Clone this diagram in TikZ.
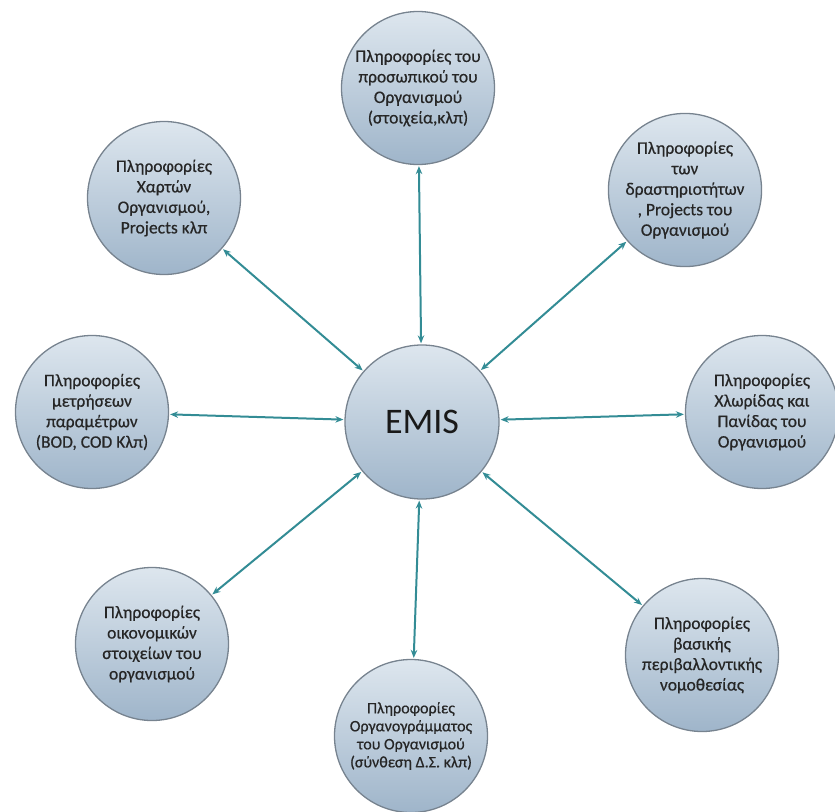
\documentclass[tikz,border=0pt]{standalone}
\usepackage{fontspec}
\setmainfont{Carlito}
\newfontfamily\bubfont[FakeBold=0.5]{Carlito}
\usetikzlibrary{arrows.meta}
\definecolor{arr}{HTML}{338C95}
\definecolor{ctop}{HTML}{DDE6EE}
\definecolor{cbot}{HTML}{9FB5CA}
\definecolor{cbord}{HTML}{77838F}
\begin{document}
\begin{tikzpicture}[x=1pt,y=-1pt,
  bub/.style={circle, draw=cbord, line width=1.3pt, top color=ctop, bottom color=cbot,
    minimum size=153pt, inner sep=0pt, align=center,
    font=\bubfont\fontsize{17.5}{20.5}\selectfont, text=black!85},
  link/.style={draw=arr, line width=2pt,
    {Stealth[length=8pt,width=6.5pt]}-{Stealth[length=8pt,width=6.5pt]},
    shorten >=1pt, shorten <=1pt}]
\useasboundingbox (0,0) rectangle (835,811);
\node[bub, minimum size=154pt, font=\fontsize{36}{40}\selectfont, text=black!90] (emis) at (422,422) {EMIS};
\node[bub] (n) at (418,88) {Πληροφορίες του\\προσωπικού του\\Οργανισμού\\(στοιχεία,κλπ)};
\node[bub] (nw) at (164,198) {Πληροφορίες\\Χαρτών\\Οργανισμού,\\Projects κλπ};
\node[bub] (ne) at (685,190) {Πληροφορίες\\των\\δραστηριοτήτων\\, Projects του\\Οργανισμού};
\node[bub] (w) at (92,412) {Πληροφορίες\\μετρήσεων\\παραμέτρων\\(BOD, COD Κλπ)};
\node[bub] (e) at (762,412) {Πληροφορίες\\Χλωρίδας και\\Πανίδας του\\Οργανισμού};
\node[bub] (sw) at (152,644) {Πληροφορίες\\οικονομικών\\στοιχείων του\\οργανισμού};
\node[bub] (se) at (702,655) {Πληροφορίες\\βασικής\\περιβαλλοντικής\\νομοθεσίας};
\node[bub, font=\bubfont\fontsize{16}{18}\selectfont] (s) at (411,736) {Πληροφορίες\\Οργανογράμματος\\του Οργανισμού\\(σύνθεση Δ.Σ. κλπ)};
\foreach \t in {n,nw,ne,w,e,sw,se,s}
  \draw[link] (emis) -- (\t);
\end{tikzpicture}
\end{document}
